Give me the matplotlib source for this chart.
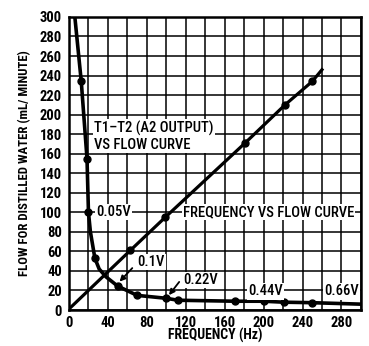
import matplotlib.pyplot as plt
import numpy as np

# frequency vs flow (straight line)
freq_hz = [1, 63, 99, 181, 222, 250, 260]
freq_flow = [2, 61, 95, 171, 210, 234, 246]
freq_marks = [1, 2, 3, 4, 5]  # indices that carry a dot

# T1-T2 (A2 output) vs flow curve
volt_x = [6, 12.6, 18.5, 20, 22, 26.6, 31, 38, 50, 70, 100, 112, 171, 200, 221, 250, 300]
volt_flow = [300, 234, 155, 100, 80, 53, 42, 34, 24.5, 15, 12, 10, 9, 9, 8, 7.5, 6]
volt_marks = [1, 2, 3, 5, 8, 9, 10, 11, 12, 13, 14, 15]

xticks = [0, 40, 80, 120, 160, 200, 240, 280]
yticks = list(range(0, 301, 20))

plt.rcParams['font.family'] = ['Roboto Condensed', 'DejaVu Sans Condensed', 'Liberation Sans']

fig = plt.figure(figsize=(3.69, 3.46), dpi=100)
ax = fig.add_axes([0.187, 0.104, 0.791, 0.847])

ax.set_xlim(0, 300)
ax.set_ylim(0, 300)
ax.set_xticks(range(0, 301, 20), minor=False)
ax.set_xticklabels([str(v) if v in xticks else '' for v in range(0, 301, 20)])
ax.set_yticks(yticks)
ax.grid(True, color='black', lw=1.1)
ax.tick_params(length=0, labelsize=10.5, pad=5)
ax.tick_params(axis='x', pad=4)
for lab in ax.get_xticklabels() + ax.get_yticklabels():
    lab.set_fontweight('bold')
for s in ax.spines.values():
    s.set_linewidth(1.8)

ax.plot(freq_hz, freq_flow, color='black', lw=2.3, zorder=3)
ax.plot([freq_hz[i] for i in freq_marks], [freq_flow[i] for i in freq_marks],
        'o', color='black', ms=5, zorder=4)
ax.plot(volt_x, volt_flow, color='black', lw=2.6, zorder=3)
ax.plot([volt_x[i] for i in volt_marks], [volt_flow[i] for i in volt_marks],
        'o', color='black', ms=5, zorder=4)

box = dict(facecolor='white', edgecolor='none', pad=0.8)
tkw = dict(fontsize=10.5, fontweight='medium', va='center', ha='left', bbox=box, zorder=5)
ax.text(26, 178, 'T1\u2013T2 (A2 OUTPUT)\nVS FLOW CURVE', linespacing=1.2, **tkw)
ax.text(28, 100, '0.05V', **tkw)
ax.text(117, 100, 'FREQUENCY VS FLOW CURVE', **tkw)
ax.text(70, 49, '0.1V', **tkw)
ax.text(117, 31, '0.22V', **tkw)
ax.text(184, 19, '0.44V', **tkw)
ax.text(262, 19, '0.66V', **tkw)

akw = dict(arrowstyle='-|>', color='black', lw=1.3, mutation_scale=8)
ax.annotate('', xy=(50, 27), xytext=(67, 45), arrowprops=akw, zorder=5)
ax.annotate('', xy=(101, 13), xytext=(115, 31), arrowprops=akw, zorder=5)

ax.set_xlabel('FREQUENCY (Hz)', fontsize=10, fontweight='bold', labelpad=-1)
ax.set_ylabel('FLOW FOR DISTILLED WATER (mL/ MINUTE)', fontsize=9.2,
              fontweight='bold', labelpad=6)

fig.savefig('out.png', dpi=100)
